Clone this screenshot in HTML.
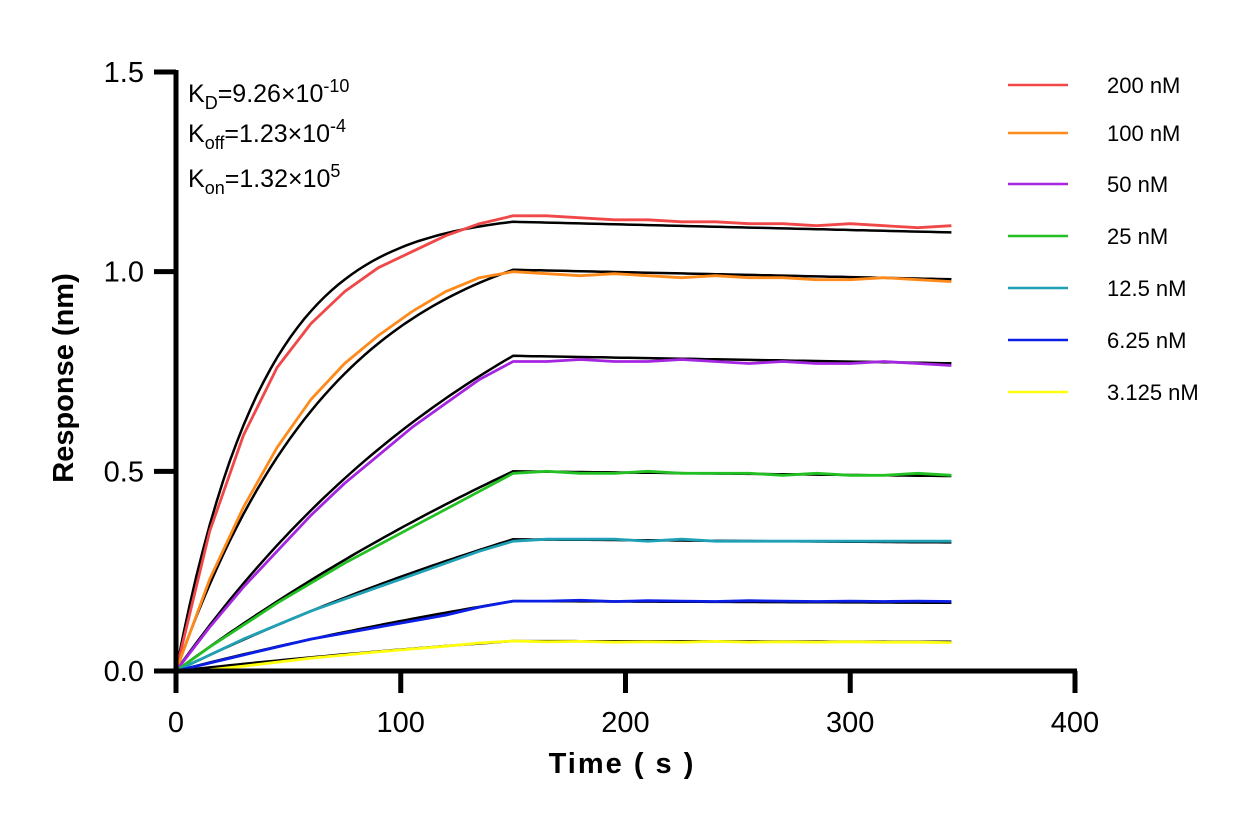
<!DOCTYPE html>
<html><head><meta charset="utf-8"><style>
body{margin:0;background:#fff}
svg{display:block;font-family:"Liberation Sans",Arial,sans-serif}
</style></head><body>
<svg id="chart" width="1252" height="825">
<g id="fits"></g>
<g id="series"></g>
<g id="axes"></g>
<g font-size="25" fill="#000">
<text x="188" y="102">K<tspan font-size="18" dy="7">D</tspan><tspan dy="-7">=9.26×10</tspan><tspan font-size="18" dy="-10">-10</tspan></text>
<text x="188" y="142">K<tspan font-size="18" dy="7">off</tspan><tspan dy="-7">=1.23×10</tspan><tspan font-size="18" dy="-10">-4</tspan></text>
<text x="188" y="187">K<tspan font-size="18" dy="7">on</tspan><tspan dy="-7">=1.32×10</tspan><tspan font-size="18" dy="-10">5</tspan></text>
</g>
<g id="legend"></g>
</svg>
<script>
const seriesNames=["200 nM","100 nM","50 nM","25 nM","12.5 nM","6.25 nM","3.125 nM"];
const seriesColors=["#f04848","#ff8a1c","#a526e0","#22c022","#1fa0b4","#0a1ee6","#ffff10"];
const dataTimes=[0,15,30,45,60,75,90,105,120,135,150,165,180,195,210,225,240,255,270,285,300,315,330,345];
const data200=[0,0.35,0.59,0.76,0.87,0.95,1.01,1.05,1.09,1.12,1.14,1.14,1.135,1.13,1.13,1.125,1.125,1.12,1.12,1.115,1.12,1.115,1.11,1.115];
const data100=[0,0.23,0.41,0.56,0.68,0.77,0.84,0.9,0.95,0.985,1.0,0.995,0.99,0.995,0.99,0.985,0.99,0.985,0.985,0.98,0.98,0.985,0.98,0.975];
const data50=[0,0.11,0.21,0.3,0.39,0.47,0.54,0.61,0.67,0.73,0.775,0.775,0.78,0.775,0.775,0.78,0.775,0.77,0.775,0.77,0.77,0.775,0.77,0.765];
const data25=[0,0.06,0.115,0.17,0.22,0.27,0.315,0.36,0.405,0.45,0.495,0.5,0.495,0.495,0.5,0.495,0.495,0.495,0.49,0.495,0.49,0.49,0.495,0.49];
const data12=[0,0.04,0.08,0.115,0.15,0.18,0.21,0.24,0.27,0.3,0.325,0.33,0.33,0.33,0.325,0.33,0.325,0.325,0.325,0.325,0.325,0.325,0.325,0.325];
const data6=[0,0.02,0.04,0.06,0.08,0.095,0.11,0.125,0.14,0.16,0.175,0.175,0.177,0.174,0.176,0.175,0.174,0.176,0.175,0.174,0.175,0.174,0.175,0.174];
const data3=[0,0.003,0.012,0.022,0.032,0.04,0.048,0.055,0.062,0.07,0.075,0.073,0.074,0.072,0.073,0.072,0.074,0.072,0.073,0.072,0.073,0.072,0.072,0.071];
const allData=[data200,data100,data50,data25,data12,data6,data3];
const fitKobs=[0.0255,0.014,0.006,0.003,0.003,0.003,0.003];
const fitReq=[1.15,1.145,1.33,1.38,0.91,0.483,0.207];
const fitKoff=[0.000123,0.000123,0.000123,0.000123,0.000123,0.000123,0.000123];
const xTicks=[0,100,200,300,400];
const yTicks=[0,0.5,1.0,1.5];
const yTickLabels=["0.0","0.5","1.0","1.5"];

const NS="http://www.w3.org/2000/svg";
const X0=176,X1=1075,Y0=671,Y1=72;
const xs=v=>X0+(v-0)/(400-0)*(X1-X0);
const ys=v=>Y0-(v-0)/(1.5-0)*(Y0-Y1);
function mk(tag,attrs,parent){const e=document.createElementNS(NS,tag);for(const k in attrs)e.setAttribute(k,attrs[k]);parent.appendChild(e);return e;}
const sg=document.getElementById('series'),fg=document.getElementById('fits'),ag=document.getElementById('axes'),lg=document.getElementById('legend');

allData.forEach((arr,i)=>{
  let pts=[];
  const r150=fitReq[i]*(1-Math.exp(-fitKobs[i]*150));
  for(let t=0;t<=345;t+=3){
    const v=t<=150?fitReq[i]*(1-Math.exp(-fitKobs[i]*t)):r150*Math.exp(-fitKoff[i]*(t-150));
    pts.push(xs(t).toFixed(1)+' '+ys(v).toFixed(1));
  }
  const p=mk('path',{d:'M'+pts.join(' L'),fill:'none',stroke:'#000','stroke-width':2.5},fg);
  
  
});
allData.forEach((arr,i)=>{
  const d=arr.map((v,j)=>(j?'L':'M')+xs(dataTimes[j]).toFixed(1)+' '+ys(v).toFixed(1)).join(' ');
  const p=mk('path',{d:d,fill:'none',stroke:seriesColors[i],'stroke-width':2.8,'stroke-linejoin':'round'},sg);
  
  
});

let a=mk('line',{x1:X0,y1:Y1-2,x2:X0,y2:Y0+2,stroke:'#000','stroke-width':5},ag);


a=mk('line',{x1:X0-2,y1:Y0,x2:X1+2,y2:Y0,stroke:'#000','stroke-width':5},ag);


xTicks.forEach(v=>{
  const t=mk('line',{x1:xs(v),y1:Y0,x2:xs(v),y2:Y0+22,stroke:'#000','stroke-width':5},ag);
  
  
  const l=mk('text',{x:xs(v),y:732,'text-anchor':'middle','font-size':29},ag);
  l.textContent=v;
  
  
});
yTicks.forEach((v,i)=>{
  const t=mk('line',{x1:X0-22,y1:ys(v),x2:X0,y2:ys(v),stroke:'#000','stroke-width':5},ag);
  
  
  const l=mk('text',{x:144,y:ys(v)+10,'text-anchor':'end','font-size':29},ag);
  l.textContent=yTickLabels[i];
  
  
});
let tt=mk('text',{x:622,y:773,'text-anchor':'middle','font-size':29,'font-weight':'bold','letter-spacing':'2'},ag);
tt.textContent='Time ( s )';


tt=mk('text',{x:73,y:378,'text-anchor':'middle','font-size':29,'font-weight':'bold',transform:'rotate(-90 73 378)'},ag);
tt.textContent='Response (nm)';



const legY=[85,133,184,236,288,340,392];
seriesNames.forEach((n,i)=>{
  const g=mk('g',{},lg);
  
  
  mk('line',{x1:1008,y1:legY[i],x2:1068,y2:legY[i],stroke:seriesColors[i],'stroke-width':2.5},g);
  const t=mk('text',{x:1107,y:legY[i]+8,'font-size':22},g);
  t.textContent=n;
});
</script>
</body></html>
